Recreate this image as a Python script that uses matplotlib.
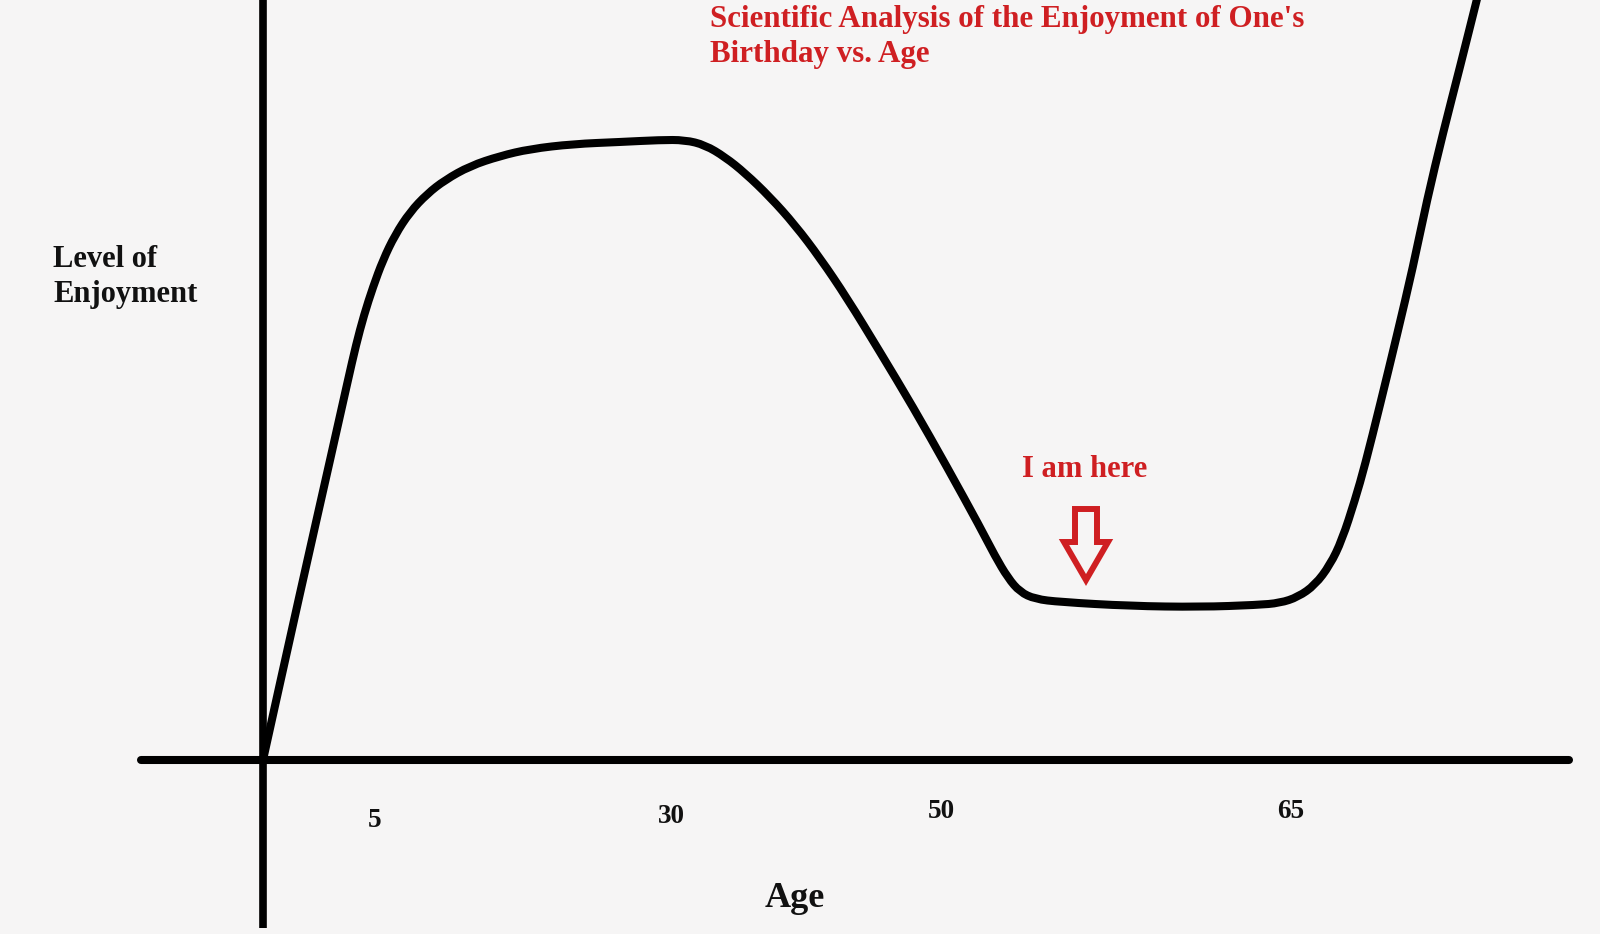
import numpy as np
import matplotlib
matplotlib.use('Agg')
import matplotlib.pyplot as plt
from matplotlib.path import Path
from matplotlib.patches import PathPatch

# hand-drawn curve (origin = where the two axes cross)
curve_x = [0, 37, 70, 85, 93, 101, 110, 120, 132, 147,
           164, 182, 207, 237, 267, 310, 357, 397, 422, 442,
           462, 482, 507, 532, 557, 584, 617, 650, 684, 717,
           732, 745, 757, 772, 797, 867, 937, 994, 1017, 1035,
           1052, 1067, 1079, 1092, 1102, 1117, 1134, 1150, 1164, 1180,
           1197, 1215]
curve_y = [0, 167, 313, 380, 415, 445, 473, 500, 525, 548,
           566, 580, 594, 604, 611, 616, 618, 620, 620, 615,
           603, 587, 563, 535, 502, 462, 408, 353, 293, 233,
           204, 182, 168, 161, 158, 154, 153, 155, 157, 163,
           175, 195, 220, 260, 295, 355, 425, 493, 560, 627,
           693, 765]

age_labels = ['5', '30', '50', '65']
age_label_x = [112, 408, 678, 1028]
age_label_y = [-67, -63, -58, -58]

title_lines = ["Scientific Analysis of the Enjoyment of One's", "Birthday vs. Age"]
ylabel_lines = ["Level of", "Enjoyment"]
marker_text = "I am here"

bg = '#f6f5f5'
red = '#cf1f22'
serif = 'Liberation Serif'


def smooth_path(xs, ys):
    # quadratic bezier through the midpoints, so the pen line has no corners
    pts = np.column_stack([xs, ys]).astype(float)
    verts = [pts[0], (pts[0] + pts[1]) / 2]
    codes = [Path.MOVETO, Path.LINETO]
    for i in range(1, len(pts) - 1):
        verts += [pts[i], (pts[i] + pts[i + 1]) / 2]
        codes += [Path.CURVE3, Path.CURVE3]
    verts.append(pts[-1])
    codes.append(Path.LINETO)
    return Path(verts, codes)


fig = plt.figure(figsize=(16, 9.34), dpi=100, facecolor=bg)
ax = fig.add_axes([0, 0, 1, 1])
ax.set_facecolor(bg)
ax.set_xlim(-263, 1337)
ax.set_ylim(-174, 760)
ax.axis('off')

# axes drawn by hand
ax.vlines(0, -168, 770, color='black', lw=5.5)
ax.hlines(0, -122, 1306, color='black', lw=5.8, capstyle='round')

ax.add_patch(PathPatch(smooth_path(curve_x, curve_y), fill=False, ec='black',
                       lw=5.8, capstyle='round', joinstyle='round'))

for lab, x, y in zip(age_labels, age_label_x, age_label_y):
    ax.text(x, y, lab, ha='center', va='baseline', fontsize=19.5,
            fontweight='bold', family=serif, color='#111111')

ax.text(532, -147, 'Age', ha='center', va='baseline', fontsize=26,
        fontweight='bold', family=serif, color='#111111')

for line, y in zip(ylabel_lines, [493, 458]):
    ax.text(-210, y, line, ha='left', va='baseline', fontsize=22,
            fontweight='bold', family=serif, color='#111111')

for line, y in zip(title_lines, [733, 698]):
    ax.text(447, y, line, ha='left', va='baseline', fontsize=22.3,
            fontweight='bold', family=serif, color=red)

ax.text(822, 283, marker_text, ha='center', va='baseline', fontsize=22,
        fontweight='bold', family=serif, color=red)

# hollow arrow pointing at the curve
ax.arrow(823, 251, 0, -71, width=22, head_width=44, head_length=38,
         length_includes_head=True, fc=bg, ec=red, lw=4.3, joinstyle='miter')

fig.savefig('out.png', dpi=100, facecolor=bg)
